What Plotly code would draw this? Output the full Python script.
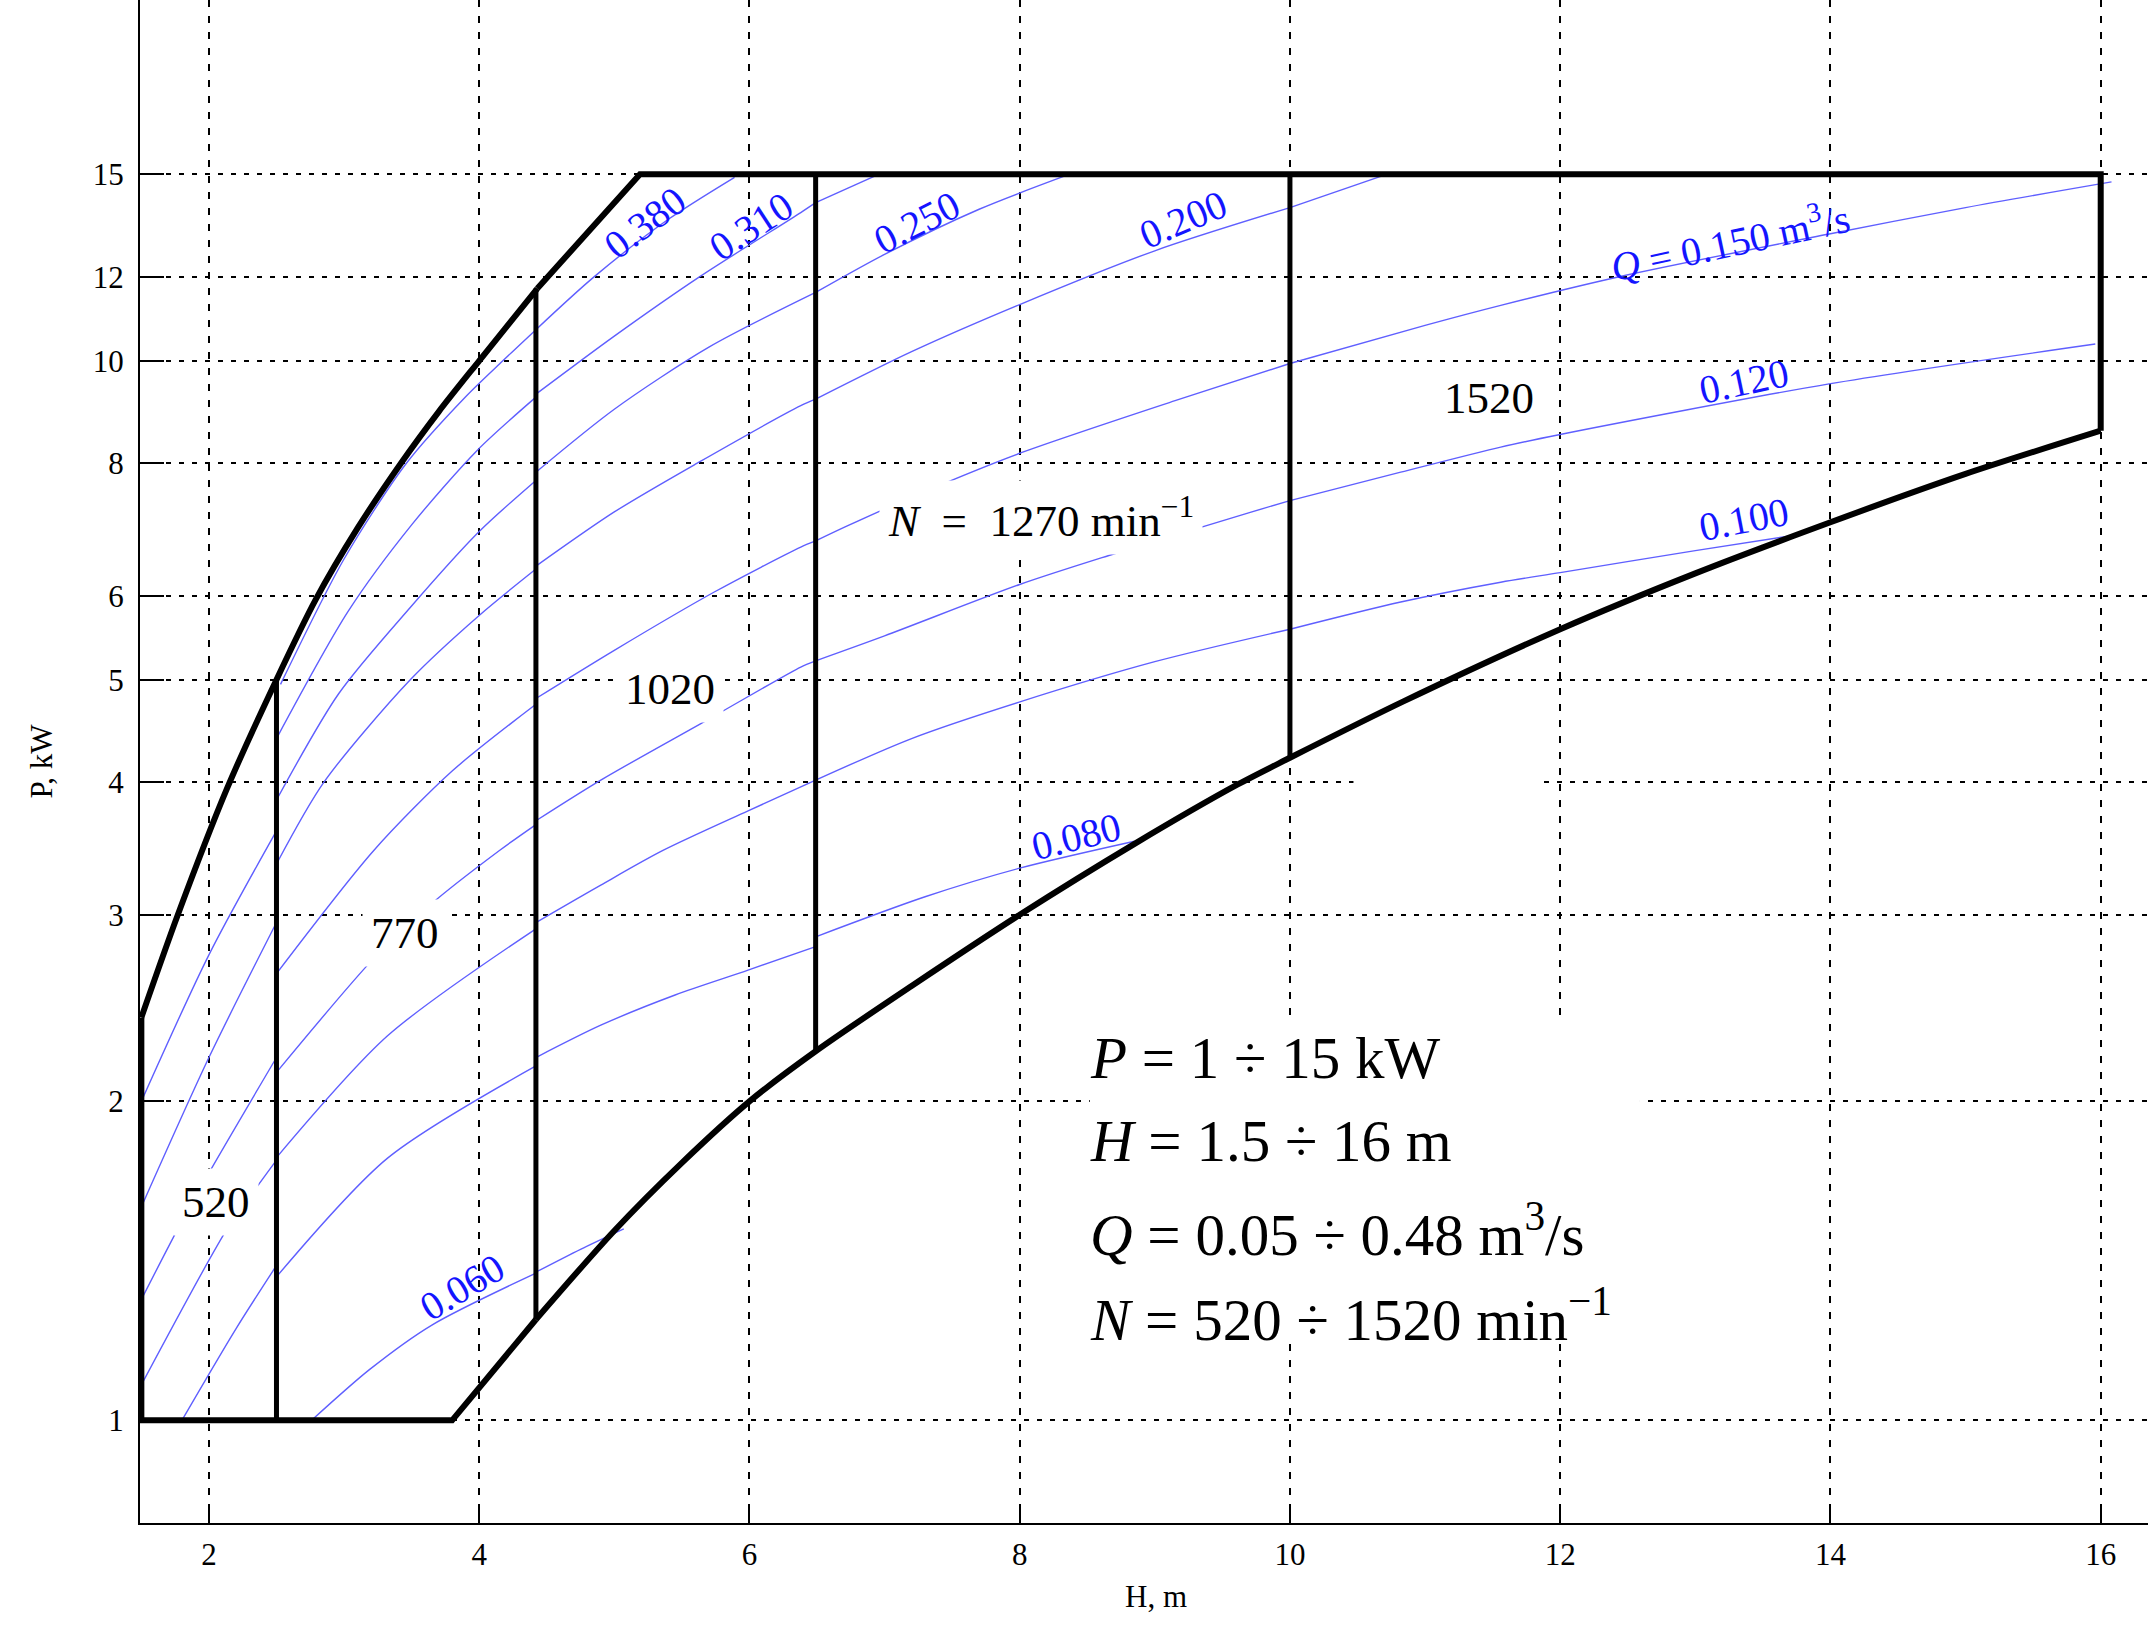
import math
import plotly.graph_objects as go

# ---- operating envelope (H in m, P in kW) ----
upper_h = [1.5, 1.77, 2.135, 2.5, 2.79, 3.1, 3.42, 3.7, 4.0, 4.43]
upper_p = [2.4, 3.0, 3.95, 5.0, 5.95, 6.95, 8.0, 8.95, 10.0, 11.7]
corner_h = [4.43, 5.19, 16.0, 16.0]
corner_p = [11.7, 15.0, 15.0, 8.59]
lower_h = [4.42, 5.0, 5.5, 6.0, 6.49, 7.2, 8.0, 8.85, 9.61, 10.0, 10.84, 12.0, 13.0, 14.0, 15.0, 16.0]
lower_p = [1.245, 1.51, 1.75, 2.0, 2.23, 2.57, 3.0, 3.5, 3.98, 4.22, 4.77, 5.58, 6.3, 7.04, 7.82, 8.59]
base_h = [1.5, 1.5, 3.8, 4.42]
base_p = [2.4, 1.0, 1.0, 1.245]

# speed borders (vertical lines)
border_h = [2.5, 4.42, 6.49, 10.0]
border_lo = [1.0, 1.245, 2.23, 4.22]
border_hi = [5.0, 11.7, 15.0, 15.0]

# ---- constant-Q lines, one segment per speed region ----
q380_h = [1.5, 2.0, 2.5, None, 2.53, 3.0, 3.46, 3.9, 4.175, 4.42, None, 4.42, 4.85, 5.4, 5.89]
q380_p = [2.0, 2.75, 3.6, None, 4.95, 6.5, 8.0, 9.25, 10.0, 10.7, None, 10.7, 12.0, 13.6, 14.9]
q310_h = [1.5, 2.0, 2.5, None, 2.5, 3.03, 3.5, 3.985, 4.42, None, 4.42, 5.0, 5.63, 6.38, 6.49, None, 6.49, 6.96]
q310_p = [1.59, 2.2, 2.95, None, 4.4, 5.8, 7.0, 8.23, 9.24, None, 9.3, 10.55, 12.0, 13.8, 14.1, None, 14.1, 15.0]
q250_h = [1.5, 1.77, 2.0, 2.5, None, 2.5, 2.96, 3.49, 4.0, 4.42, None, 4.42, 5.0, 5.7, 6.49, None, 6.49, 7.0, 7.7, 8.37]
q250_p = [1.3, 1.516, 1.712, 2.2, None, 3.85, 4.85, 5.85, 6.9, 7.71, None, 7.85, 9.0, 10.3, 11.6, None, 11.6, 12.6, 13.9, 15.0]
q200_h = [1.5, 2.135, 2.35, 2.5, None, 2.5, 2.85, 3.49, 4.0, 4.42, None, 4.42, 5.0, 5.61, 6.38, 6.49,
          None, 6.49, 7.2, 8.0, 9.0, 10.0, None, 10.0, 10.72]
q200_p = [1.08, 1.516, 1.657, 1.76, None, 3.35, 4.0, 5.0, 5.75, 6.36, None, 6.4, 7.2, 8.0, 9.07, 9.2,
          None, 9.2, 10.2, 11.3, 12.7, 13.95, None, 13.95, 15.0]
q150_h = [1.8, 2.2, 2.5, None, 2.5, 3.22, 3.8, 4.42, None, 4.42, 5.0, 5.74, 6.38, 6.49,
          None, 6.49, 6.72, 7.28, 7.99, 9.15, 10.0, None, 10.0, 11.0, 11.56, 12.47, 14.0, 15.0, 16.08]
q150_p = [1.0, 1.22, 1.4, None, 2.64, 3.45, 4.1, 4.74, None, 4.8, 5.33, 6.05, 6.67, 6.76,
          None, 6.76, 6.98, 7.51, 8.17, 9.17, 9.94, None, 9.94, 10.8, 11.28, 12.03, 13.18, 13.95, 14.75]
q120_h = [2.5, 3.21, 3.63, 4.15, 4.42, None, 4.42, 4.9, 5.7, 6.38, 6.49, None, 6.49, 7.0, 8.0, 8.66, 9.7, 10.0,
          None, 10.0, 10.82, 11.56, 12.0, 13.99, 15.96]
q120_p = [2.13, 2.72, 3.06, 3.45, 3.65, None, 3.68, 4.02, 4.59, 5.14, 5.21, None, 5.21, 5.5, 6.15, 6.55, 7.19, 7.38,
          None, 7.38, 7.85, 8.29, 8.52, 9.51, 10.37]
q100_h = [2.5, 3.32, 4.42, None, 4.42, 4.9, 5.36, 5.99, 6.49, None, 6.49, 7.2, 7.99, 9.0, 10.0,
          None, 10.0, 10.82, 11.56, 12.0, 13.0, 13.75]
q100_p = [1.77, 2.305, 2.91, None, 2.95, 3.2, 3.45, 3.76, 4.02, None, 4.02, 4.4, 4.76, 5.2, 5.58,
          None, 5.58, 5.92, 6.18, 6.31, 6.62, 6.85]
q080_h = [2.5, 3.32, 4.42, None, 4.42, 4.9, 5.45, 5.99, 6.49, None, 6.49, 7.3, 8.0, 8.85]
q080_p = [1.366, 1.767, 2.16, None, 2.2, 2.36, 2.52, 2.66, 2.8, None, 2.86, 3.12, 3.32, 3.52]
q060_h = [2.76, 3.19, 3.65, 4.42, None, 4.42, 4.75, 5.07]
q060_p = [1.0, 1.117, 1.23, 1.377, None, 1.38, 1.45, 1.516]

q_lines = [(q380_h, q380_p), (q310_h, q310_p), (q250_h, q250_p), (q200_h, q200_p), (q150_h, q150_p),
           (q120_h, q120_p), (q100_h, q100_p), (q080_h, q080_p), (q060_h, q060_p)]

# labels on the Q lines
q_labels = ["0.380", "0.310", "0.250", "0.200", "<i>Q</i> = 0.150 m<sup>3</sup>/s",
            "0.120", "0.100", "0.080", "0.060"]
q_label_h = [5.23, 6.01, 7.24, 9.21, 13.25, 13.36, 13.36, 8.42, 3.87]
q_label_p = [13.5, 13.4, 13.5, 13.6, 13.0, 9.55, 7.08, 3.56, 1.335]
q_label_angle = [-37, -33, -27, -23, -12, -12, -11, -14, -31]

# speed region labels
EQ = "\u2002=\u2002"
n_labels = ["520", "770", "1020", "<i>N</i>" + EQ + "1270 min<sup>\u22121</sup>", "1520"]
n_label_h = [2.05, 3.45, 5.41, 6.96, 11.47]
n_label_p = [1.606, 2.884, 4.9, 7.12, 9.22]
n_label_anchor = ["center", "center", "center", "left", "center"]

summary = ["<i>P</i> = 1 \u00f7 15 kW",
           "<i>H</i> = 1.5 \u00f7 16 m",
           "<i>Q</i> = 0.05 \u00f7 0.48 m<sup>3</sup>/s",
           "<i>N</i> = 520 \u00f7 1520 min<sup>\u22121</sup>"]
summary_y = [0.3056, 0.2507, 0.1922, 0.1364]

x_ticks = [2, 4, 6, 8, 10, 12, 14, 16]
y_ticks = [1, 2, 3, 4, 5, 6, 8, 10, 12, 15]

SERIF = "Liberation Serif, Times New Roman, serif"
BLUE_LINE = "rgb(95,95,255)"
BLUE_TEXT = "rgb(20,20,255)"

fig = go.Figure()

for h, p in q_lines:
    fig.add_trace(go.Scatter(x=h, y=p, mode="lines",
                             line=dict(color=BLUE_LINE, width=1.4, shape="spline", smoothing=0.8),
                             connectgaps=False, showlegend=False, hoverinfo="skip"))

# borders between speed regions
bx, by = [], []
for h, lo, hi in zip(border_h, border_lo, border_hi):
    bx += [h, h, None]
    by += [lo, hi, None]
fig.add_trace(go.Scatter(x=bx, y=by, mode="lines", line=dict(color="black", width=5),
                         showlegend=False, hoverinfo="skip"))

# envelope
fig.add_trace(go.Scatter(x=upper_h, y=upper_p, mode="lines",
                         line=dict(color="black", width=6, shape="spline", smoothing=0.8),
                         showlegend=False, hoverinfo="skip"))
fig.add_trace(go.Scatter(x=corner_h, y=corner_p, mode="lines", line=dict(color="black", width=6),
                         showlegend=False, hoverinfo="skip"))
fig.add_trace(go.Scatter(x=lower_h, y=lower_p, mode="lines",
                         line=dict(color="black", width=6, shape="spline", smoothing=0.8),
                         showlegend=False, hoverinfo="skip"))
fig.add_trace(go.Scatter(x=base_h, y=base_p, mode="lines", line=dict(color="black", width=6),
                         showlegend=False, hoverinfo="skip"))

for txt, h, p, ang in zip(q_labels, q_label_h, q_label_p, q_label_angle):
    fig.add_annotation(x=h, y=math.log10(p), text=txt, textangle=ang, showarrow=False,
                       font=dict(family=SERIF, size=40, color=BLUE_TEXT))

for txt, h, p, anc in zip(n_labels, n_label_h, n_label_p, n_label_anchor):
    fig.add_annotation(x=h, y=math.log10(p), text=txt, showarrow=False, xanchor=anc,
                       bgcolor="white", borderpad=8,
                       font=dict(family=SERIF, size=45, color="black"))

# white patches where the original hides the grid
fig.add_shape(type="rect", xref="paper", yref="paper", x0=0.473, x1=0.747, y0=0.118, y1=0.332,
              fillcolor="white", line=dict(width=0), layer="above")
fig.add_shape(type="rect", xref="x", yref="paper", x0=10.47, x1=11.84, y0=0.478, y1=0.495,
              fillcolor="white", line=dict(width=0), layer="above")

for txt, yy in zip(summary, summary_y):
    fig.add_annotation(x=0.472, y=yy, xref="paper", yref="paper", text=txt, showarrow=False,
                       xanchor="left", yanchor="middle",
                       font=dict(family=SERIF, size=59, color="black"))

# axis titles
fig.add_annotation(x=0.506, y=-0.061, xref="paper", yref="paper", text="H, m", showarrow=False,
                   font=dict(family=SERIF, size=31, color="black"))
fig.add_annotation(x=-0.059, y=0.5, xref="paper", yref="paper", text="P, kW", textangle=-90, showarrow=False,
                   font=dict(family=SERIF, size=31, color="black"))

fig.update_layout(
    width=2148, height=1633,
    margin=dict(l=140, r=0, t=0, b=110, autoexpand=False),
    paper_bgcolor="white", plot_bgcolor="white",
    showlegend=False,
    xaxis=dict(range=[1.49, 16.35], tickvals=x_ticks, ticks="inside", ticklen=18, tickwidth=2, tickcolor="black",
               showline=True, linecolor="black", linewidth=2, mirror=False, zeroline=False, automargin=False,
               showgrid=True, gridcolor="black", gridwidth=1.8, griddash="7px,9px",
               tickfont=dict(family=SERIF, size=31, color="black"), ticklabelstandoff=3),
    yaxis=dict(type="log", range=[math.log10(0.8), 1.3405], tickvals=y_ticks, ticktext=[str(t) for t in y_ticks],
               ticks="inside", ticklen=24, tickwidth=2, tickcolor="black",
               showline=True, linecolor="black", linewidth=2, mirror=False, zeroline=False, automargin=False,
               showgrid=True, gridcolor="black", gridwidth=1.8, griddash="5px,8px",
               tickfont=dict(family=SERIF, size=31, color="black"), ticklabelstandoff=8),
)

# the page's default body margin would shift the figure by 8 px
fig.write_html("out.html", config={"displayModeBar": False},
               post_script="document.body.style.margin='0';")
